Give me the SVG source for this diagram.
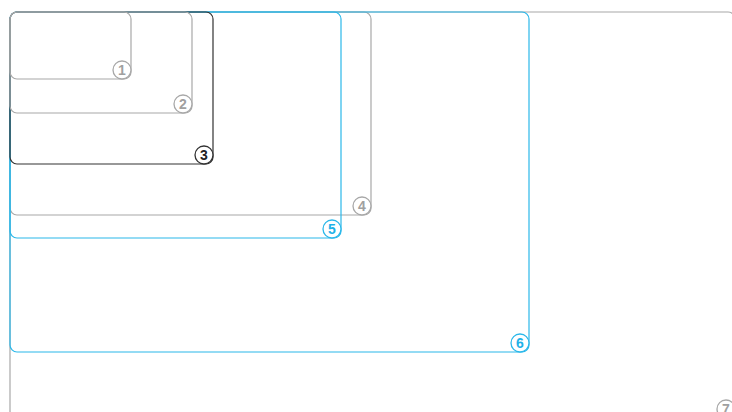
<svg xmlns="http://www.w3.org/2000/svg" width="732" height="412" viewBox="0 0 732 412">
<style>
.box{fill:none;stroke-width:1.2}
.g{stroke:#a8a8a8}
.k{stroke:#333333}
.b{stroke:#2bb8ea}
.c{fill:#ffffff;stroke-width:1.3}
.t{font-family:"Liberation Sans",Arial,sans-serif;font-weight:bold;font-size:14px;text-anchor:middle}
.tg{fill:#a0a0a0}
.tk{fill:#222222}
.tb{fill:#1fb2e8}
</style>
<rect width="732" height="412" fill="#ffffff"/>
<g id="node7">
<rect class="box g" x="10" y="12" width="725" height="406" rx="7"/>
<circle class="c g" cx="726" cy="409" r="9"/>
<text class="t tg" x="726" y="414">7</text>
</g>
<g id="node4">
<rect class="box g" x="10" y="12" width="361" height="203" rx="7"/>
<circle class="c g" cx="362" cy="206" r="9"/>
<text class="t tg" x="362" y="211">4</text>
</g>
<g id="node6">
<rect class="box b" x="10" y="12" width="519" height="340" rx="7"/>
<circle class="c b" cx="520" cy="343" r="9"/>
<text class="t tb" x="520" y="348">6</text>
</g>
<g id="node5">
<rect class="box b" x="10" y="12" width="331" height="226" rx="7"/>
<circle class="c b" cx="332" cy="229" r="9"/>
<text class="t tb" x="332" y="234">5</text>
</g>
<g id="node3">
<rect class="box k" x="10" y="12" width="203" height="152" rx="7"/>
<circle class="c k" cx="204" cy="155" r="9"/>
<text class="t tk" x="204" y="160">3</text>
</g>
<g id="node2">
<rect class="box g" x="10" y="12" width="182" height="101" rx="7"/>
<circle class="c g" cx="183" cy="104" r="9"/>
<text class="t tg" x="183" y="109">2</text>
</g>
<g id="node1">
<rect class="box g" x="10" y="12" width="121" height="67" rx="7"/>
<circle class="c g" cx="122" cy="70" r="9"/>
<text class="t tg" x="122" y="75">1</text>
</g>
<g id="connectors"></g>
</svg>
